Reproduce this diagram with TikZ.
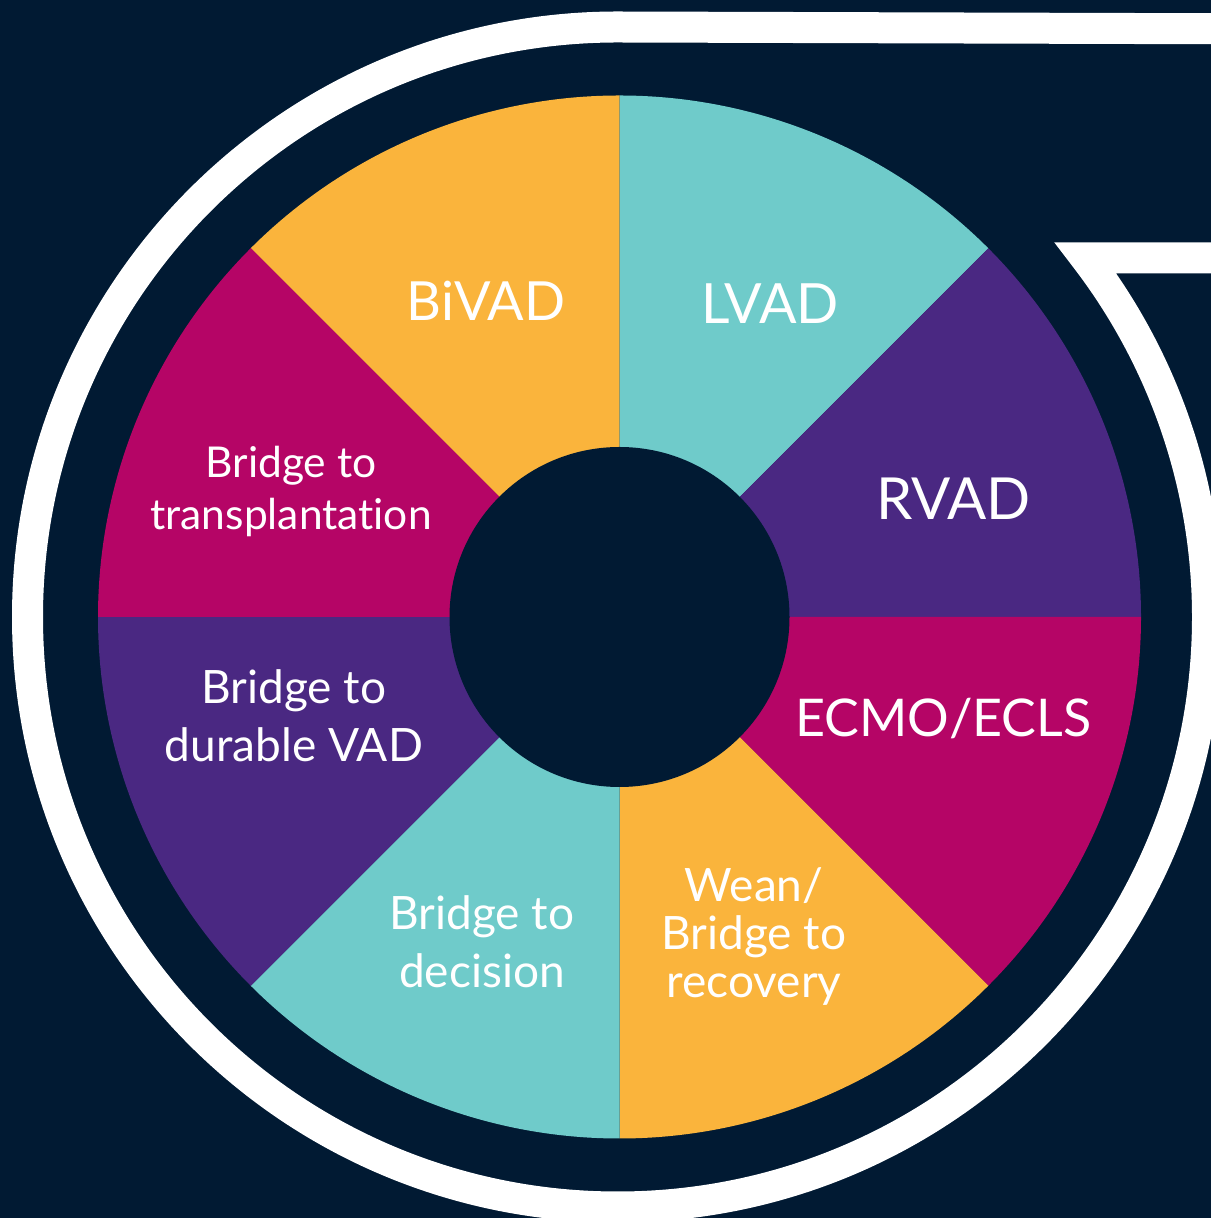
\documentclass[tikz,border=0pt]{standalone}
\usepackage{fontspec}
\setmainfont{Lato}[Ligatures=NoCommon]
\definecolor{navy}{RGB}{1,26,51}
\definecolor{wOrange}{RGB}{250,180,60}
\definecolor{wTeal}{RGB}{111,203,202}
\definecolor{wPurple}{RGB}{74,40,130}
\definecolor{wMagenta}{RGB}{181,5,102}
\newcommand\ctrstack[2]{\vtop{\baselineskip=#1\lineskiplimit=-100pt\halign{\hfil##\hfil\cr#2\crcr}}}
\begin{document}
\begin{tikzpicture}[x=1pt,y=1pt,
  biglabel/.style={text=white,inner sep=0pt,anchor=base,font=\fontsize{54}{60}\selectfont},
  smalllabel/.style={text=white,inner sep=0pt,anchor=base,font=\fontsize{46}{58}\selectfont},
  ring/.style={draw=white,line width=31,line join=miter,miter limit=10},
  hubstyle/.style={circle,fill=navy,inner sep=0pt,minimum size=340}]
\useasboundingbox (0,0) rectangle (1211,1218);
\clip (0,0) rectangle (1211,1218);
\fill[navy] (0,0) rectangle (1211,1218);
\coordinate (c) at (619.5,601);
\coordinate (rc) at (617.5,601);
% sectors
\foreach \a/\col in {90/wOrange,45/wTeal,0/wPurple,-45/wMagenta,-90/wOrange,-135/wTeal,180/wPurple,135/wMagenta}
  \fill[\col] (c) -- ++(\a:521.5) arc[start angle=\a, delta angle=45, radius=521.5] -- cycle;
\node[hubstyle] (hub) at (c) {};
% white ring
\path[ring] (1300,1189) -- ([yshift=590]rc) arc[start angle=90, end angle=397.5, radius=590] -- ++(700,0);
% labels
\node[biglabel] (bivad) at (486,897) {BiVAD};
\node[biglabel,font=\fontsize{55.5}{60}\selectfont] (lvad) at (770,894) {LVAD};
\node[biglabel,font=\fontsize{58}{60}\selectfont] (rvad) at (953.5,698) {RVAD};
\node[biglabel,font=\fontsize{52}{60}\selectfont] (ecmo) at (943.5,481) {ECMO/ECLS};
\node[smalllabel,font=\fontsize{42.5}{52}\selectfont] (transp) at (291,740) {\ctrstack{52pt}{Bridge to\cr transplantation}};
\node[smalllabel] (durable) at (294,514) {\ctrstack{58pt}{Bridge to\cr durable VAD}};
\node[smalllabel] (decision) at (482,288) {\ctrstack{58pt}{Bridge to\cr decision}};
\node[smalllabel] (wean) at (754,316) {\ctrstack{48pt}{Wean/\cr Bridge to\cr recovery}};
\end{tikzpicture}
\end{document}
